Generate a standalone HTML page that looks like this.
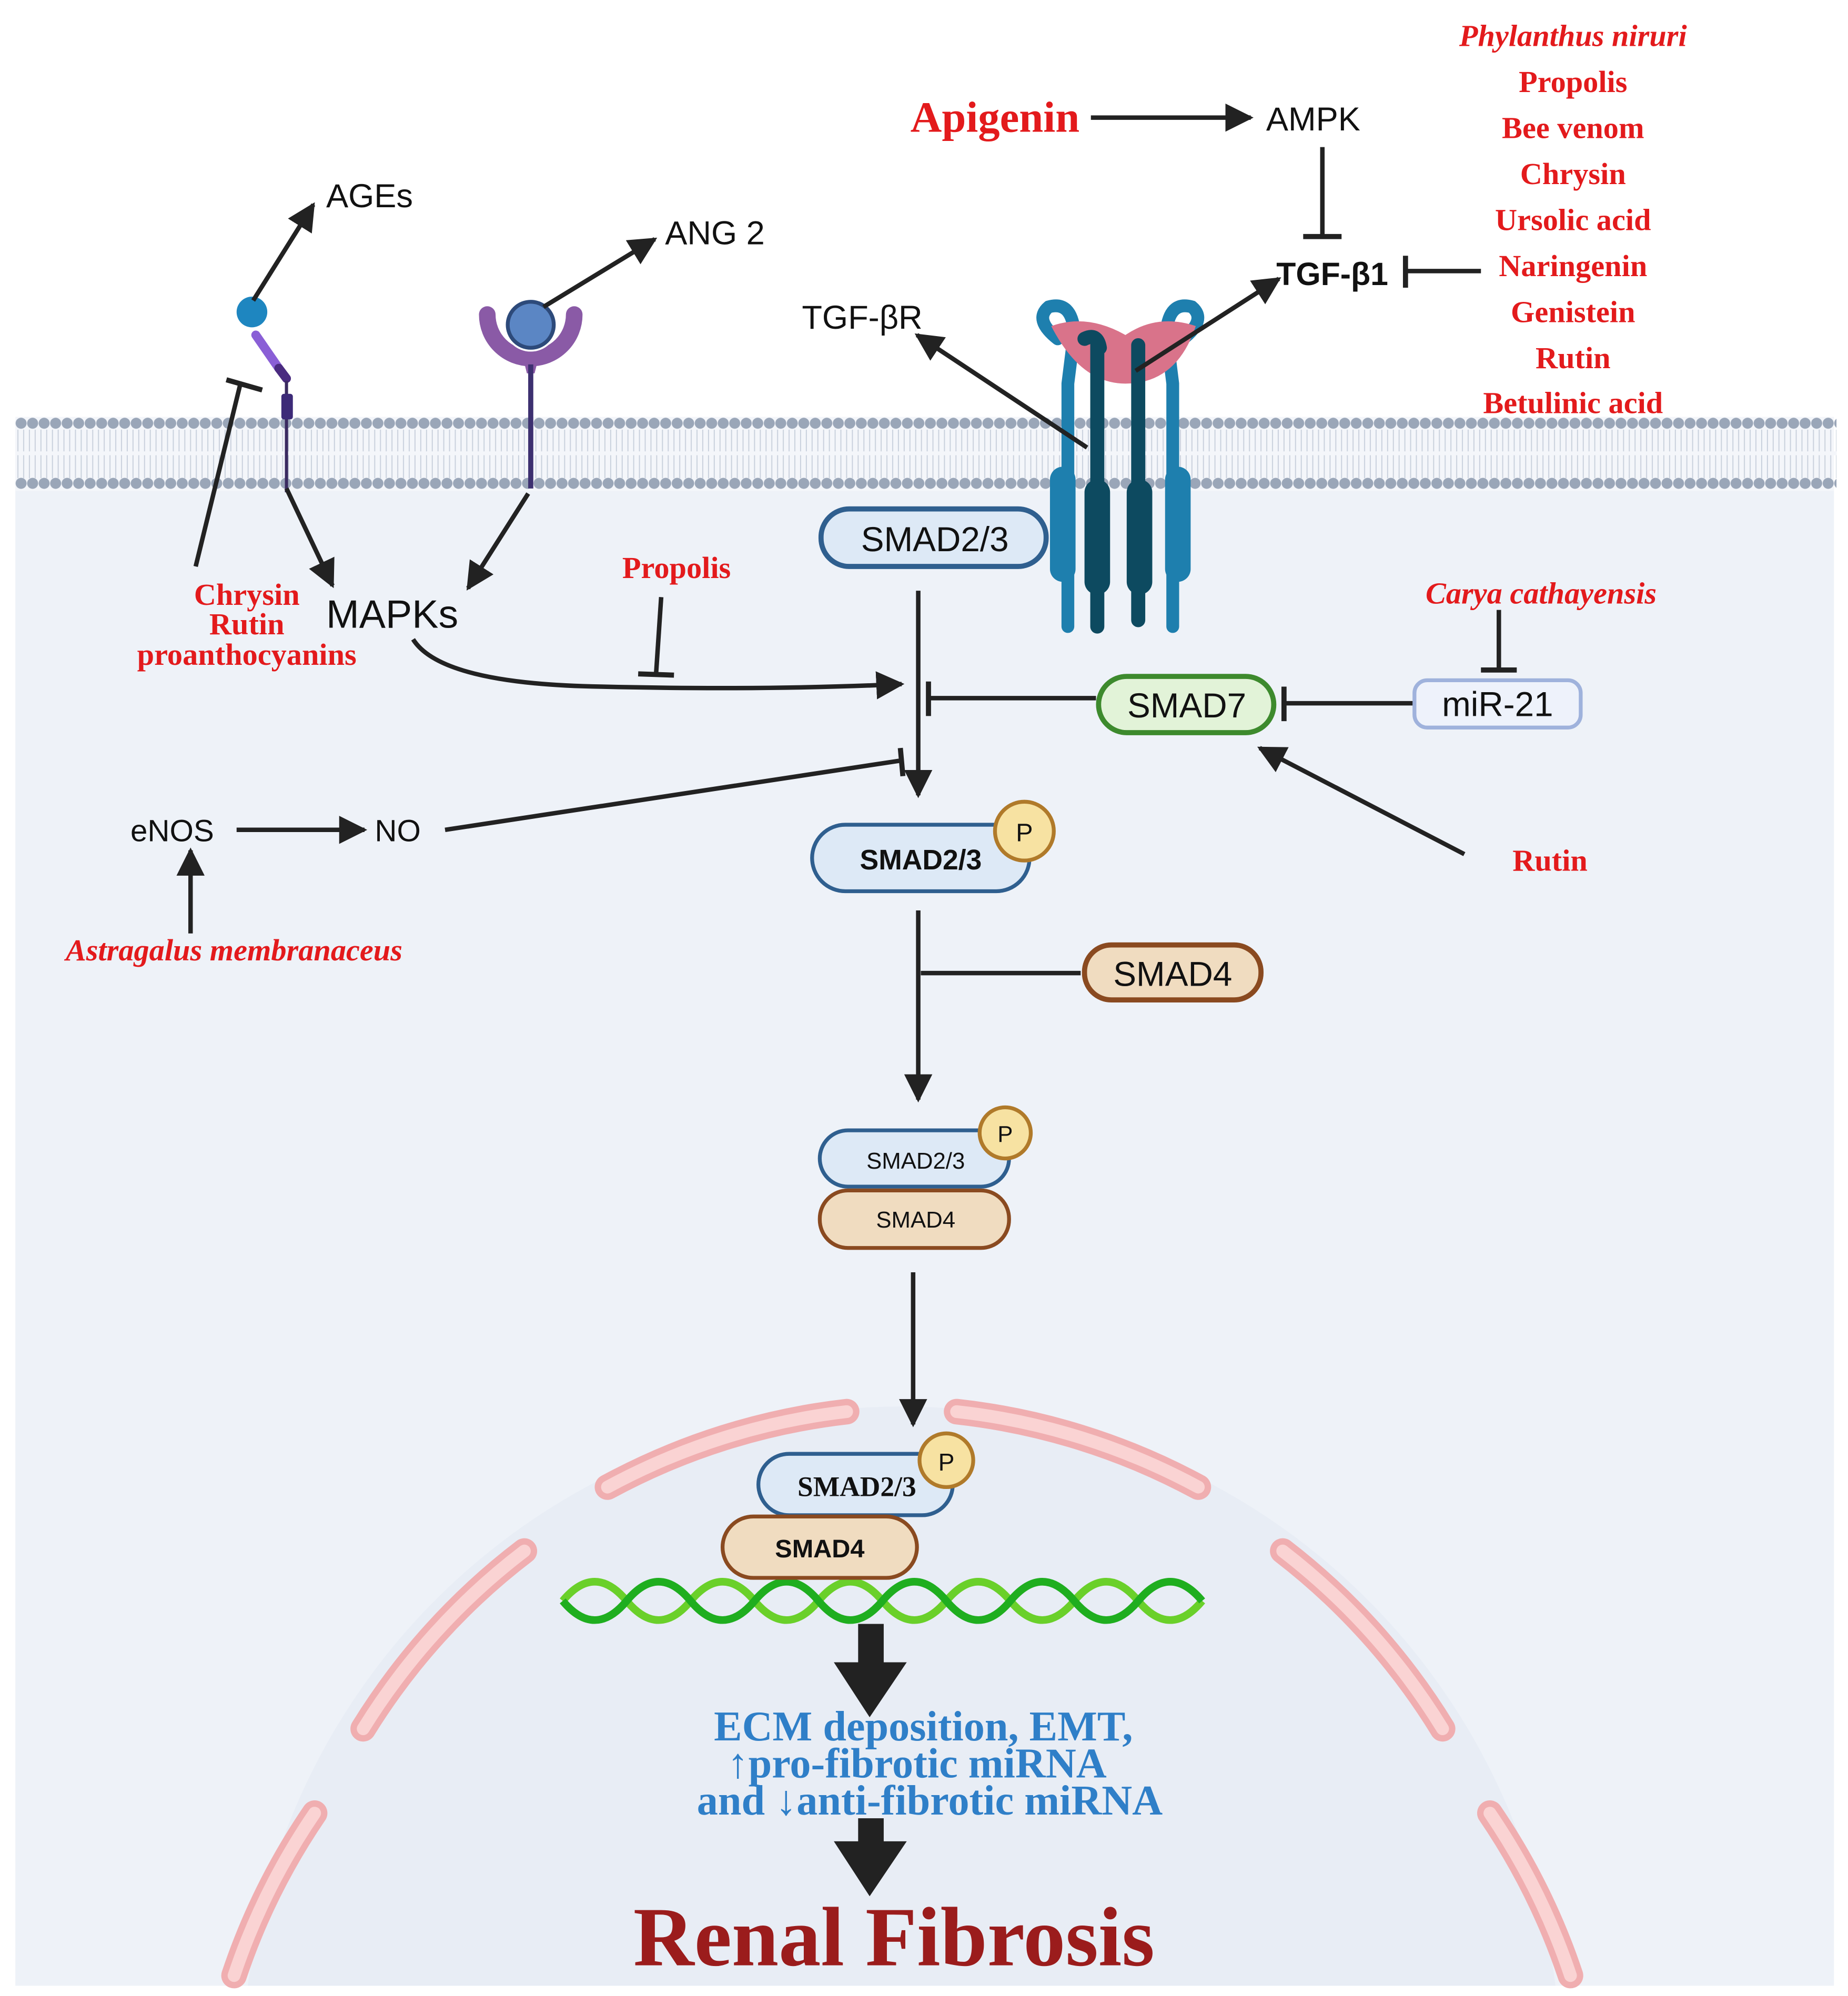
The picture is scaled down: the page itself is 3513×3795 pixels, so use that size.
<!DOCTYPE html>
<html><head><meta charset="utf-8"><style>html,body{margin:0;padding:0;background:#fff;overflow:hidden;width:3513px;height:3795px}svg{display:block}</style></head><body>
<svg width="3513" height="3795" viewBox="0 0 1445 1561" xmlns="http://www.w3.org/2000/svg" font-family="Liberation Sans, sans-serif">
<defs>
<marker id="ah" viewBox="0 0 10 10" refX="9" refY="5" markerWidth="22" markerHeight="22" orient="auto" markerUnits="userSpaceOnUse"><path d="M0,0L10,5L0,10z" fill="#222"/></marker>
<pattern id="mem" x="12" y="325" width="9" height="12" patternUnits="userSpaceOnUse">
<circle cx="4.5" cy="6" r="4.3" fill="#9aa6b8"/>
</pattern>
<pattern id="mem2" x="12" y="372" width="9" height="12" patternUnits="userSpaceOnUse">
<circle cx="4.5" cy="6" r="4.3" fill="#9aa6b8"/>
</pattern>
<pattern id="tails" x="12" y="0" width="4.5" height="10" patternUnits="userSpaceOnUse">
<path d="M2,0V10" stroke="#c8d0dc" stroke-width="0.8"/>
</pattern>
</defs>
<rect width="1445" height="1561" fill="#fff"/>
<rect x="12" y="330" width="1422" height="1223" fill="#eef2f8"/>
<!-- nucleus -->
<circle cx="705" cy="1615" r="515" fill="#e8edf5"/>
<rect x="0" y="1553" width="1445" height="8" fill="#fff"/>
<g fill="none" stroke-linecap="round">
<g stroke="#f0aeb0" stroke-width="20">
<path d="M475,1163 A515,515 0 0 1 662,1104"/>
<path d="M748,1104 A515,515 0 0 1 937,1163"/>
<path d="M1003,1213 A515,515 0 0 1 1128,1352"/>
<path d="M284,1352 A515,515 0 0 1 410,1213"/>
<path d="M1165,1418 A515,515 0 0 1 1228,1545"/>
<path d="M183,1545 A515,515 0 0 1 246,1418"/>
</g>
<g stroke="#fad3d3" stroke-width="10">
<path d="M475,1163 A515,515 0 0 1 662,1104"/>
<path d="M748,1104 A515,515 0 0 1 937,1163"/>
<path d="M1003,1213 A515,515 0 0 1 1128,1352"/>
<path d="M284,1352 A515,515 0 0 1 410,1213"/>
<path d="M1165,1418 A515,515 0 0 1 1228,1545"/>
<path d="M183,1545 A515,515 0 0 1 246,1418"/>
</g>
</g>
<!-- membrane -->
<rect x="12" y="326" width="1422" height="58" fill="#f4f6fa"/>
<rect x="12" y="336" width="1424" height="38" fill="url(#tails)"/>
<rect x="12" y="353" width="1424" height="3" fill="#f4f6fa"/>
<rect x="12" y="325" width="1424" height="12" fill="url(#mem)"/>
<rect x="12" y="372" width="1424" height="12" fill="url(#mem2)"/>

<!-- left receptor -->
<circle cx="197" cy="244" r="12" fill="#1e86c0"/>
<path d="M200,262 L218,288" stroke="#8a5fd6" stroke-width="7" stroke-linecap="round"/>
<path d="M218,288 L224,296" stroke="#4a2b80" stroke-width="7" stroke-linecap="round"/>
<path d="M224,298 V385" stroke="#3a2a60" stroke-width="2.5"/>
<rect x="220" y="308" width="9" height="20" rx="2" fill="#3d2a78"/>
<!-- ANG receptor -->
<path d="M381,246 A34,34 0 0 0 449,246" fill="none" stroke="#8a5aa6" stroke-width="13" stroke-linecap="round"/>
<path d="M408,276 Q415,285 422,276 L418,292 H412Z" fill="#8a5aa6"/>
<circle cx="415" cy="254" r="21" fill="#fff"/>
<circle cx="415" cy="254" r="18" fill="#5b86c4" stroke="#2d4a7a" stroke-width="3"/>
<path d="M415,285 V382" stroke="#3d3070" stroke-width="4"/>
<!-- TGF-b receptor -->
<g stroke-linecap="round">
<path d="M827,265 Q808,250 820,240 Q838,235 840,260 L835,300 V490" stroke="#1e7fae" stroke-width="10" fill="none"/>
<path d="M925,265 Q944,250 932,240 Q914,235 912,260 L917,300 V490" stroke="#1e7fae" stroke-width="10" fill="none"/>
<path d="M822,255 Q850,245 880,262 Q905,245 935,255 Q920,300 880,300 Q845,300 822,255Z" fill="#d9738a"/>
<path d="M858,270 V490" stroke="#0d4a60" stroke-width="11"/>
<path d="M890,270 V485" stroke="#0d4a60" stroke-width="11"/>
<path d="M848,265 Q858,260 860,272" stroke="#0d4a60" stroke-width="11" fill="none"/>
<rect x="821" y="365" width="20" height="90" rx="10" fill="#1e7fae"/>
<rect x="911" y="365" width="20" height="90" rx="10" fill="#1e7fae"/>
<rect x="848" y="375" width="20" height="90" rx="10" fill="#0d4a60"/>
<rect x="881" y="375" width="20" height="90" rx="10" fill="#0d4a60"/>
</g>

<!-- arrows -->
<g stroke="#222" stroke-width="3.5" fill="none">
<path d="M198,235 L245,160" marker-end="url(#ah)"/>
<path d="M425,240 L512,187" marker-end="url(#ah)"/>
<path d="M853,92 H978" marker-end="url(#ah)"/>
<path d="M1034,115 V185"/><path d="M1019,185 H1049" stroke-width="4"/>
<path d="M1158,212 H1100"/><path d="M1099,200 V225" stroke-width="4"/>
<path d="M888,290 L1000,218" marker-end="url(#ah)"/>
<path d="M850,350 L717,262" marker-end="url(#ah)"/>
<path d="M153,443 L188,300"/><path d="M177,297 L205,305" stroke-width="4"/>
<path d="M224,382 L260,458" marker-end="url(#ah)"/>
<path d="M413,386 L366,460" marker-end="url(#ah)"/>
<path d="M323,500 Q345,535 470,537 Q600,540 705,535" marker-end="url(#ah)"/>
<path d="M517,467 L513,527"/><path d="M499,527 L527,528" stroke-width="4"/>
<path d="M718,462 V622" marker-end="url(#ah)"/>
<path d="M857,546 H727"/><path d="M726,533 V560" stroke-width="4"/>
<path d="M1106,550 H1005"/><path d="M1004,537 V564" stroke-width="4"/>
<path d="M1172,477 V523"/><path d="M1158,524 H1186" stroke-width="4"/>
<path d="M1145,668 L985,585" marker-end="url(#ah)"/>
<path d="M348,649 L703,595"/><path d="M704,585 L706,607" stroke-width="4"/>
<path d="M185,649 H285" marker-end="url(#ah)"/>
<path d="M149,730 V665" marker-end="url(#ah)"/>
<path d="M718,712 V860" marker-end="url(#ah)"/>
<path d="M720,761 H845"/>
<path d="M714,995 V1114" marker-end="url(#ah)"/>
</g>
<rect x="671" y="1270" width="20" height="45" fill="#222"/><path d="M652,1300 H709 L680,1343Z" fill="#222"/>
<rect x="671" y="1422" width="20" height="25" fill="#222"/><path d="M652,1440 H709 L680,1483Z" fill="#222"/>

<!-- DNA -->
<g fill="none" stroke-width="6">
<path d="M440,1252 q25,-30 50,0 t50,0 t50,0 t50,0 t50,0 t50,0 t50,0 t50,0 t50,0 t50,0" stroke="#6ad02a"/>
<path d="M440,1252 q25,30 50,0 t50,0 t50,0 t50,0 t50,0 t50,0 t50,0 t50,0 t50,0 t50,0" stroke="#1fae1f"/>
</g>

<!-- nodes -->
<g font-size="27" text-anchor="middle" fill="#111">
<rect x="642" y="398" width="176" height="45" rx="22" fill="#dde9f6" stroke="#2f5f8f" stroke-width="4"/>
<text x="731" y="431">SMAD2/3</text>
<rect x="859" y="529" width="137" height="44" rx="22" fill="#e2f3d8" stroke="#3d8a2d" stroke-width="4"/>
<text x="928" y="561">SMAD7</text>
<rect x="1106" y="532" width="130" height="37" rx="10" fill="#eef2fb" stroke="#9fb2dc" stroke-width="3"/>
<text x="1171" y="560">miR-21</text>
<rect x="635" y="645" width="170" height="52" rx="26" fill="#dde9f6" stroke="#2f5f8f" stroke-width="3"/>
<text x="720" y="680" font-weight="bold" font-size="22">SMAD2/3</text>
<circle cx="801" cy="650" r="23" fill="#f7e2a2" stroke="#b07a2a" stroke-width="3"/><text x="801" y="658" font-size="20">P</text>
<rect x="848" y="739" width="138" height="43" rx="21" fill="#f0dcc0" stroke="#8a4a20" stroke-width="4"/>
<text x="917" y="771">SMAD4</text>
<rect x="641" y="884" width="148" height="44" rx="22" fill="#dde9f6" stroke="#2f5f8f" stroke-width="3"/>
<text x="716" y="914" font-size="18">SMAD2/3</text>
<circle cx="786" cy="886" r="20" fill="#f7e2a2" stroke="#b07a2a" stroke-width="3"/><text x="786" y="893" font-size="18">P</text>
<rect x="641" y="931" width="148" height="45" rx="22" fill="#f0dcc0" stroke="#8a4a20" stroke-width="3"/>
<text x="716" y="960" font-size="18">SMAD4</text>
<rect x="593" y="1137" width="152" height="48" rx="24" fill="#dde9f6" stroke="#2f5f8f" stroke-width="3"/>
<text x="670" y="1170" font-size="22" font-weight="bold" font-family="Liberation Serif, serif">SMAD2/3</text>
<circle cx="740" cy="1142" r="21" fill="#f7e2a2" stroke="#b07a2a" stroke-width="3"/><text x="740" y="1150" font-size="19">P</text>
<rect x="565" y="1186" width="152" height="48" rx="24" fill="#f0dcc0" stroke="#8a4a20" stroke-width="3"/>
<text x="641" y="1218" font-size="20" font-weight="bold">SMAD4</text>
</g>

<!-- black labels -->
<g fill="#111" font-size="26">
<text x="255" y="162">AGEs</text>
<text x="520" y="191">ANG 2</text>
<text x="990" y="102">AMPK</text>
<text x="627" y="257">TGF-βR</text>
<text x="998" y="223" font-weight="bold" font-size="25">TGF-β1</text>
<text x="255" y="491" font-size="31">MAPKs</text>
<text x="102" y="658" font-size="24">eNOS</text>
<text x="293" y="658" font-size="24">NO</text>
</g>

<!-- red labels -->
<g fill="#e31a1c" font-family="Liberation Serif, serif" font-weight="bold" text-anchor="middle" font-size="24">
<text x="1230" y="36" font-style="italic">Phylanthus niruri</text>
<text x="1230" y="72">Propolis</text>
<text x="1230" y="108">Bee venom</text>
<text x="1230" y="144">Chrysin</text>
<text x="1230" y="180">Ursolic acid</text>
<text x="1230" y="216">Naringenin</text>
<text x="1230" y="252">Genistein</text>
<text x="1230" y="288">Rutin</text>
<text x="1230" y="323">Betulinic acid</text>
<text x="778" y="103" font-size="34">Apigenin</text>
<text x="193" y="473">Chrysin</text>
<text x="193" y="496">Rutin</text>
<text x="193" y="520">proanthocyanins</text>
<text x="529" y="452">Propolis</text>
<text x="1205" y="472" font-style="italic">Carya cathayensis</text>
<text x="1212" y="681">Rutin</text>
<text x="183" y="751" font-style="italic">Astragalus membranaceus</text>
</g>
<g fill="#2f7fc8" font-family="Liberation Serif, serif" font-weight="bold" text-anchor="middle" font-size="33">
<text x="722" y="1361">ECM deposition,  EMT,</text>
<text x="717" y="1390">↑pro-fibrotic miRNA</text>
<text x="727" y="1419">and ↓anti-fibrotic miRNA</text>
</g>
<text x="699" y="1537" text-anchor="middle" fill="#9b1c1c" font-family="Liberation Serif, serif" font-weight="bold" font-size="66">Renal Fibrosis</text>
</svg>
</body></html>
